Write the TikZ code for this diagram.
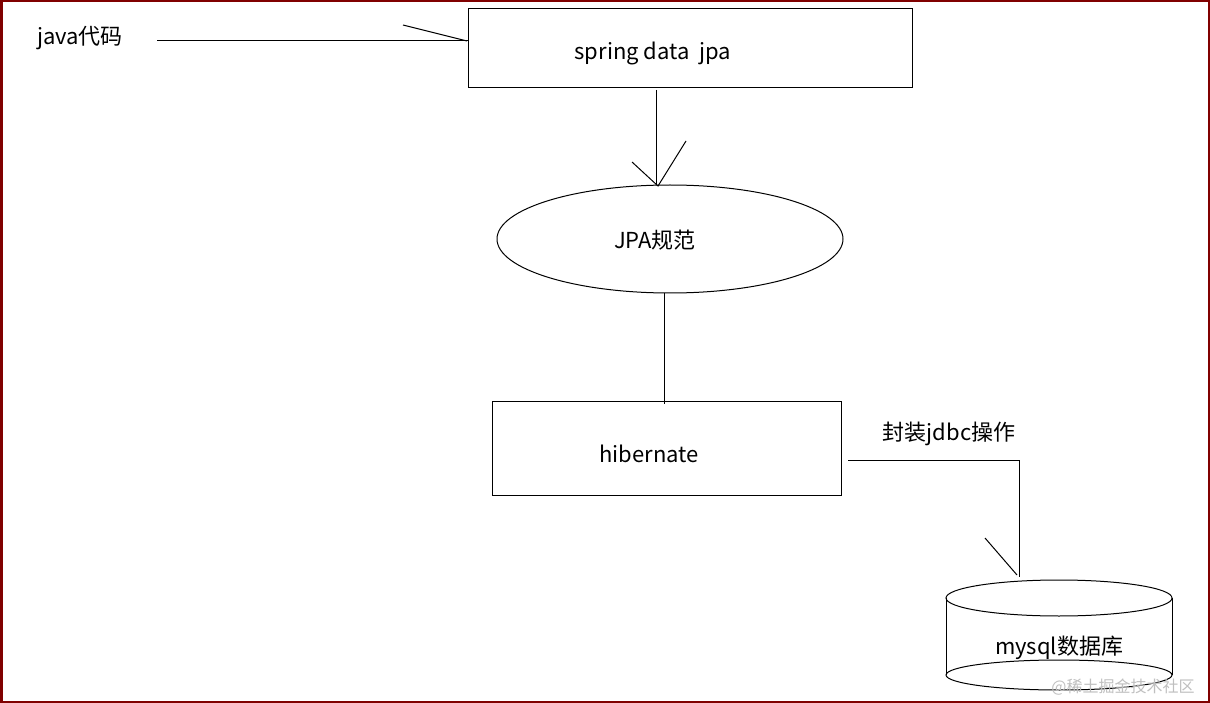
\documentclass[tikz,border=0pt]{standalone}
\usepackage{fontspec}
\setmainfont{Noto Sans CJK SC}
\usetikzlibrary{shapes.geometric}
\begin{document}
\begin{tikzpicture}[x=1pt,y=-1pt,line width=1pt,
  lbl/.style={font=\fontsize{22}{26}\selectfont,inner sep=0pt}]
\useasboundingbox (0,0) rectangle (1210,703);
\fill[white] (0,0) rectangle (1210,703);
\draw[color={rgb,255:red,128;green,0;blue,0},line width=3pt] (1,1) rectangle (1209,702);
\node[lbl] (java) at (80,38) {java代码};
\node[draw,minimum width=444pt,minimum height=79pt,inner sep=0pt] (sdj) at (690,48.5) {};
\node[lbl] at (653,53) {spring data\ \ jpa};
\node[draw,ellipse,minimum width=346pt,minimum height=108pt,inner sep=0pt] (jpa) at (670,239) {};
\node[lbl] at (655,240) {JPA规范};
\node[draw,minimum width=349pt,minimum height=94pt,inner sep=0pt] (hib) at (666.5,448) {};
\node[lbl] at (649,454) {hibernate};
\node[lbl] (fz) at (949,434) {封装jdbc操作};
% arrows
\coordinate (a1) at (157,41);
\draw (a1) -- (sdj.west |- a1);
\draw (403,25) -- (467,41);
\draw (656,90) -- (656,185);
\draw (632,162) -- (658,186) -- (686,141);
\draw (664,293) -- (664,404);
\coordinate (c1) at (848,460);
\coordinate (c2) at (1019,460);
\coordinate (c3) at (1019,577);
\draw (c1) -- (c2) -- (c3);
\draw (985,538) -- (1017,575);
% cylinder
\draw (1059,598) ellipse [x radius=113pt, y radius=18pt];
\draw (946,598) -- (946,675);
\draw (1172,598) -- (1172,675);
\draw (1059,675) ellipse [x radius=113pt, y radius=15pt];
\node[lbl] (db) at (1059,648) {mysql数据库};
\node[font=\fontsize{16}{18}\selectfont,text=gray!50,inner sep=0pt] (wm) at (1123,687) {@稀土掘金技术社区};
\end{tikzpicture}
\end{document}
